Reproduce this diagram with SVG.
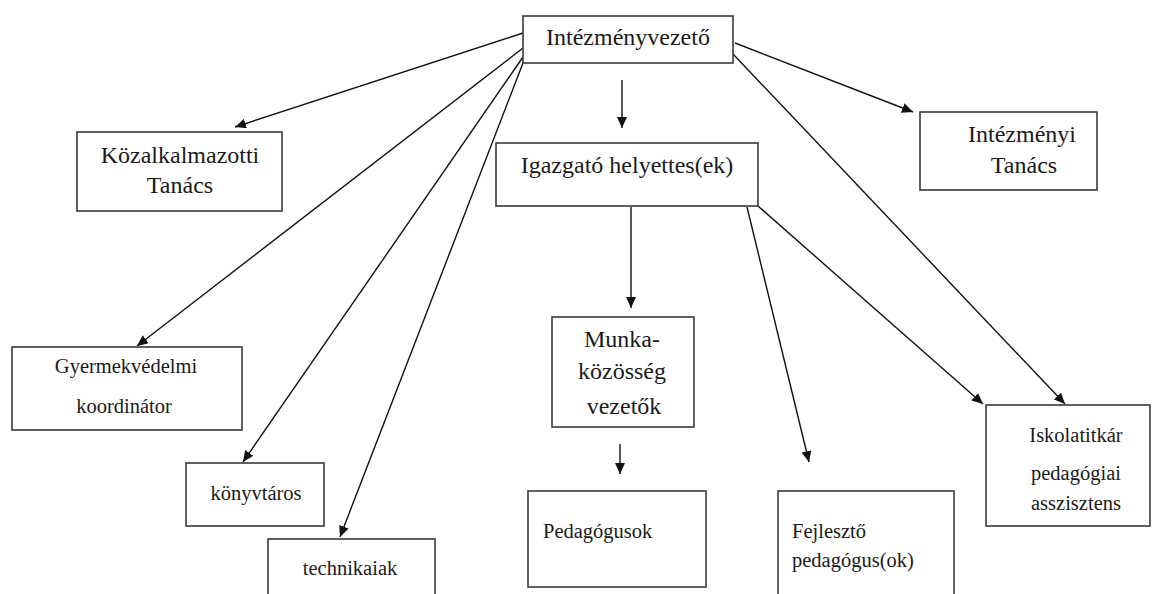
<svg xmlns="http://www.w3.org/2000/svg" width="1160" height="594" viewBox="0 0 1160 594">
<style>
.box{fill:#fff;stroke:#3a3a3a;stroke-width:1.6}
.t{font-family:"Liberation Serif","Times New Roman",serif;fill:#1a1a1a}
.big{font-size:24px}
.sm{font-size:20.5px}
.c{text-anchor:middle}
.con line{stroke:#111;stroke-width:1.4;marker-end:url(#ah)}
</style>
<defs>
<marker id="ah" markerUnits="userSpaceOnUse" markerWidth="11" markerHeight="10" refX="11" refY="5" orient="auto">
<path d="M0,0 L11,5 L0,10 z" fill="#111"/>
</marker>
</defs>
<rect width="1160" height="594" fill="#fff"/>
<g class="con">
<line x1="523" y1="33" x2="235" y2="127"/>
<line x1="523" y1="48" x2="137" y2="346"/>
<line x1="523" y1="57" x2="243" y2="462"/>
<line x1="523" y1="63" x2="340" y2="537"/>
<line x1="735" y1="43" x2="913" y2="112"/>
<line x1="733" y1="54" x2="1065" y2="404"/>
<line x1="622" y1="80" x2="622" y2="128"/>
<line x1="631" y1="207" x2="631" y2="308"/>
<line x1="747" y1="207" x2="809" y2="462"/>
<line x1="758" y1="206" x2="983" y2="404"/>
<line x1="620" y1="444" x2="620" y2="474"/>
</g>
<g id="intezmenyvezeto">
<rect class="box" x="523" y="16" width="210" height="47"/>
<text class="t big c" x="628" y="45">Intézményvezető</text>
</g>
<g id="kozalkalmazotti">
<rect class="box" x="77" y="132" width="205" height="79"/>
<text class="t big c" x="180" y="163">Közalkalmazotti</text>
<text class="t big c" x="180" y="193">Tanács</text>
</g>
<g id="igazgato">
<rect class="box" x="496" y="143" width="262" height="63"/>
<text class="t big c" x="627" y="173">Igazgató helyettes(ek)</text>
</g>
<g id="intezmenyi">
<rect class="box" x="920" y="112" width="177" height="78"/>
<text class="t big c" x="1022" y="142">Intézményi</text>
<text class="t big c" x="1024" y="173">Tanács</text>
</g>
<g id="gyermekvedelmi">
<rect class="box" x="12" y="347" width="230" height="83"/>
<text class="t sm c" x="126" y="373">Gyermekvédelmi</text>
<text class="t sm c" x="124" y="413">koordinátor</text>
</g>
<g id="konyvtaros">
<rect class="box" x="186" y="463" width="138" height="63"/>
<text class="t sm c" x="256" y="500">könyvtáros</text>
</g>
<g id="technikaiak">
<rect class="box" x="268" y="539" width="167" height="70"/>
<text class="t sm c" x="350" y="575">technikaiak</text>
</g>
<g id="munkakozosseg">
<rect class="box" x="552" y="317" width="142" height="110"/>
<text class="t big c" x="622" y="347">Munka-</text>
<text class="t big c" x="622" y="379">közösség</text>
<text class="t big c" x="624" y="414">vezetők</text>
</g>
<g id="pedagogusok">
<rect class="box" x="528" y="491" width="178" height="96"/>
<text class="t sm" x="543" y="538">Pedagógusok</text>
</g>
<g id="fejleszto">
<rect class="box" x="778" y="491" width="176" height="104"/>
<text class="t sm" x="792" y="538">Fejlesztő</text>
<text class="t sm" x="792" y="567">pedagógus(ok)</text>
</g>
<g id="iskolatitkar">
<rect class="box" x="986" y="405" width="164" height="121"/>
<text class="t sm c" x="1076" y="442">Iskolatitkár</text>
<text class="t sm c" x="1076" y="480">pedagógiai</text>
<text class="t sm c" x="1076" y="510">asszisztens</text>
</g>
</svg>
